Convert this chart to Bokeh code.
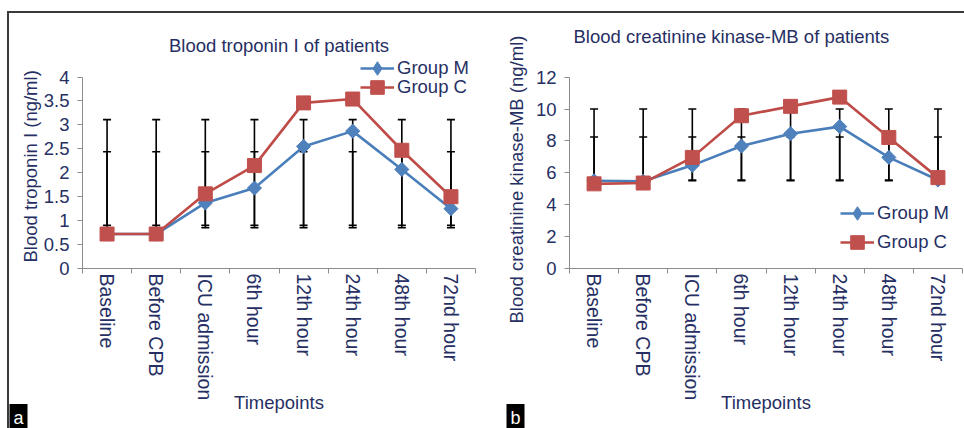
from bokeh.plotting import figure
from bokeh.models import FixedTicker, CustomJSTickFormatter, Legend, LegendItem, Title
from bokeh.layouts import row
from bokeh.embed import file_html
from bokeh.resources import INLINE

timepoints = ["Baseline", "Before CPB", "ICU admission", "6th hour",
              "12th hour", "24th hour", "48th hour", "72nd hour"]

troponin_M = [0.72, 0.72, 1.37, 1.68, 2.55, 2.87, 2.07, 1.25]
troponin_C = [0.72, 0.72, 1.56, 2.15, 3.46, 3.54, 2.47, 1.50]
troponin_err_lo_M = [0.90, 0.90, 0.90, 0.90, 0.90, 0.90, 0.90, 0.90]
troponin_err_hi_M = [2.44, 2.44, 2.44, 2.44, 2.44, 2.44, 2.44, 2.44]
troponin_err_lo_C = [0.85, 0.85, 0.85, 0.85, 0.85, 0.85, 0.85, 0.85]
troponin_err_hi_C = [3.11, 3.11, 3.11, 3.11, 3.11, 3.11, 3.11, 3.11]
troponin_yticks = [0, 0.5, 1, 1.5, 2, 2.5, 3, 3.5, 4]

ckmb_M = [5.50, 5.47, 6.47, 7.68, 8.45, 8.90, 6.97, 5.55]
ckmb_C = [5.31, 5.36, 6.97, 9.58, 10.17, 10.75, 8.22, 5.70]
ckmb_err_lo_M = [5.55, 5.55, 5.55, 5.55, 5.55, 5.55, 5.55, 5.55]
ckmb_err_hi_M = [8.25, 8.25, 8.25, 8.25, 8.25, 8.25, 8.25, 8.25]
ckmb_err_lo_C = [5.50, 5.50, 5.50, 5.50, 5.50, 5.50, 5.50, 5.50]
ckmb_err_hi_C = [10.0, 10.0, 10.0, 10.0, 10.0, 10.0, 10.0, 10.0]
ckmb_yticks = [0, 2, 4, 6, 8, 10, 12]

group_labels = ["Group M", "Group C"]

FONT = "Liberation Sans"
FS = "18.5px"
TXT = "#262F63"
AXIS = "#8C8C8C"
BLUE_L, BLUE_M = "#4A7EBB", "#4F81BD"
RED_L, RED_M = "#BE4B48", "#C0504D"

xs = [i + 0.5 for i in range(len(timepoints))]
bounds = [float(i) for i in range(len(timepoints) + 1)]


def text_title(text, side_kw):
    return Title(text=text, text_font=FONT, text_font_size=FS, text_font_style="normal",
                 text_color=TXT, **side_kw)


def panel(width, height, yrange, ybounds, yticks, M, C, loM, hiM, loC, hiC, title, ylabel,
          borders, title_align, title_offset, title_standoff, ylab_offset, ylab_standoff,
          tag, tag_offset, tag_standoff):
    left, right, top, bottom = borders
    p = figure(width=width, height=height, x_range=(0, len(timepoints)), y_range=yrange,
               output_backend="svg", toolbar_location=None,
               min_border_left=left, min_border_right=right,
               min_border_top=top, min_border_bottom=bottom)
    p.grid.visible = False
    p.outline_line_color = None
    p.title.text = title
    p.title.text_font = FONT
    p.title.text_font_size = FS
    p.title.text_font_style = "normal"
    p.title.text_color = TXT
    p.title.align = title_align
    p.title.offset = title_offset
    p.title.standoff = title_standoff

    xa = p.xaxis[0]
    xa.ticker = FixedTicker(ticks=xs, minor_ticks=bounds)
    xa.formatter = CustomJSTickFormatter(args=dict(labels=timepoints),
                                         code="const i = Math.round(tick - 0.5); return labels[i] ?? '';")
    xa.major_label_orientation = "vertical"
    xa.major_tick_out = 0
    xa.major_tick_in = 0
    xa.minor_tick_out = 5
    xa.minor_tick_in = 0
    xa.minor_tick_line_color = AXIS
    xa.axis_line_color = AXIS
    xa.major_label_text_font = FONT
    xa.major_label_text_font_size = "19.5px"
    xa.major_label_text_color = TXT
    xa.major_label_standoff = 0
    xa.axis_label = "Timepoints"
    xa.axis_label_text_font = FONT
    xa.axis_label_text_font_size = FS
    xa.axis_label_text_font_style = "normal"
    xa.axis_label_text_color = TXT
    xa.axis_label_standoff = -11

    ya = p.yaxis[0]
    ya.ticker = FixedTicker(ticks=yticks)
    ya.bounds = ybounds
    ya.formatter = CustomJSTickFormatter(code="return String(tick);")
    ya.major_tick_out = 5
    ya.major_tick_in = 0
    ya.minor_tick_line_color = None
    ya.axis_line_color = AXIS
    ya.major_tick_line_color = AXIS
    ya.major_label_text_font = FONT
    ya.major_label_text_font_size = FS
    ya.major_label_text_color = TXT
    ya.major_label_standoff = 8

    # y axis title placed in the left panel so it can be positioned along the axis
    p.add_layout(text_title(ylabel, dict(align="left", offset=ylab_offset,
                                         standoff=ylab_standoff, vertical_align="bottom")), "left")

    # error bars
    for lo, hi in ((loC, hiC), (loM, hiM)):
        p.segment(x0=xs, y0=lo, x1=xs, y1=hi, line_color="black", line_width=1.6)
        p.scatter(x=xs, y=lo, marker="dash", size=8, line_color="black", line_width=1.6)
        p.scatter(x=xs, y=hi, marker="dash", size=8, line_color="black", line_width=1.6)

    lM = p.line(xs, M, line_color=BLUE_L, line_width=2.6)
    lC = p.line(xs, C, line_color=RED_L, line_width=2.6)
    dM = p.scatter(xs, M, marker="diamond", size=12, fill_color=BLUE_M, line_color=BLUE_M)
    p.scatter(xs, M, marker="square", angle=0.785398, size=10,
              fill_color=BLUE_M, line_color=BLUE_M)
    sC = p.scatter(xs, C, marker="square", size=14, fill_color=RED_M, line_color=RED_M)

    t = Title(text=tag, align="left", offset=tag_offset, standoff=tag_standoff,
              vertical_align="bottom", padding=4,
              text_font=FONT, text_font_size="18px", text_font_style="normal",
              text_color="white", background_fill_color="black")
    p.add_layout(t, "below")
    return p, (lM, dM), (lC, sC)


W1, W2, H = 488, 467, 415

p1, rm1, rc1 = panel(W1, H, (0, 4.45), (0, 4), troponin_yticks, troponin_M, troponin_C,
                     troponin_err_lo_M, troponin_err_hi_M, troponin_err_lo_C, troponin_err_hi_C,
                     "Blood troponin I of patients", "Blood troponin I (ng/ml)",
                     (73, 22, 42, 160), "center", 0, 0, 6, 0, "a", -73, -29)
p2, rm2, rc2 = panel(W2, H, (0, 13.36), (0, 12), ckmb_yticks, ckmb_M, ckmb_C,
                     ckmb_err_lo_M, ckmb_err_hi_M, ckmb_err_lo_C, ckmb_err_hi_C,
                     "Blood creatinine kinase-MB of patients", "Blood creatinine kinase-MB (ng/ml)",
                     (70, 2, 42, 160), "left", 4, 17, -55, 12, "b", -63, -29)


def add_legend(p, label, rends, loc):
    lg = Legend(items=[LegendItem(label=label, renderers=list(rends))],
                location=loc, padding=0, margin=0,
                glyph_width=34, glyph_height=34, label_height=34, label_standoff=3,
                label_text_font=FONT, label_text_font_size=FS, label_text_color=TXT,
                border_line_color=None, background_fill_alpha=0)
    p.add_layout(lg)


add_legend(p1, group_labels[0], rm1, (278, 183))
add_legend(p1, group_labels[1], rc1, (278, 164))
add_legend(p2, group_labels[0], rm2, (271, 38))
add_legend(p2, group_labels[1], rc2, (271, 9))

lay = row(p1, p2,
          styles={"border-top": "2px solid #3a3a3a", "border-left": "2px solid #3a3a3a",
                  "margin-top": "11px", "margin-left": "7px"})

open("out.html", "w").write(file_html(lay, INLINE))
